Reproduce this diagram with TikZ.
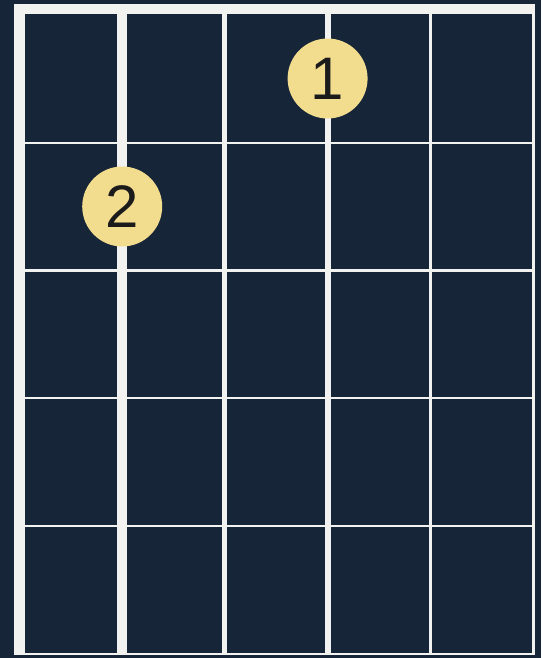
\documentclass[tikz,border=0pt]{standalone}
\usepackage{fontspec}
\setmainfont{Liberation Sans}
\usetikzlibrary{positioning}
\definecolor{boardnavy}{HTML}{162538}
\definecolor{wirewhite}{HTML}{F2F2F0}
\definecolor{dotyellow}{HTML}{F2DC8E}
\definecolor{dottext}{HTML}{1B1B1B}

\begin{document}
\begin{tikzpicture}[x=1pt, y=-1pt,
      fret/.style={draw=wirewhite, line width=2.5pt},
      nut/.style={draw=wirewhite, line width=10pt},
      finger/.style={circle, fill=dotyellow, text=dottext, minimum size=80pt, inner sep=0pt, font=\fontsize{60}{60}\selectfont},
    ]
    % board and margins
    \fill[boardnavy] (0,0) rectangle (541,658);
    \useasboundingbox (0,0) rectangle (541,658);

    % strings, thick to thin
    \foreach \i/\w in {0/11,1/10,2/5,3/6,4/3,5/3}
      \draw[wirewhite, line width=\w pt] ({19.5+\i*102.7},9) -- ({19.5+\i*102.7},654.5);

    % frets and nut
    \foreach \y in {143,270.5,398,526,654}
      \draw[fret] (14,\y) -- (534.5,\y);
    \draw[nut] (14,9) -- (534.5,9);

    % fingers
    \node[finger] (f1) at (327.6,78.5) {1};
    \node[finger] (f2) at (122.2,206.5) {2};
  \end{tikzpicture}
\end{document}
